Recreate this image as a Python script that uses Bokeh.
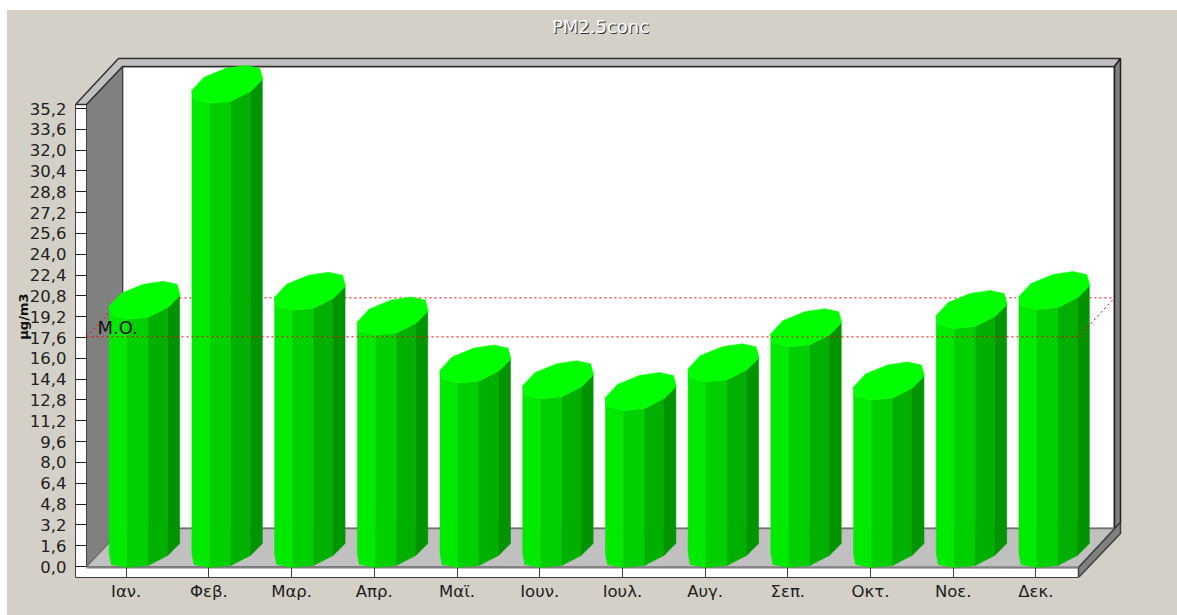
from bokeh.plotting import figure
from bokeh.models import Range1d, LinearAxis, FixedTicker, Label, ColumnDataSource
from bokeh.embed import file_html
from bokeh.resources import INLINE

TITLE = "PM2.5conc"
Y_LABEL = "μg/m3"
MEAN_LABEL = "M.O."
MONTHS = ["Ιαν.", "Φεβ.", "Μαρ.", "Απρ.", "Μαϊ.", "Ιουν.", "Ιουλ.", "Αυγ.", "Σεπ.", "Οκτ.", "Νοε.", "Δεκ."]
VALUES = [19.0, 35.6, 19.7, 17.8, 14.1, 12.9, 12.0, 14.2, 16.9, 12.8, 18.3, 19.75]
MEAN = 17.65
Y_TICKS = [0.0, 1.6, 3.2, 4.8, 6.4, 8.0, 9.6, 11.2, 12.8, 14.4, 16.0, 17.6, 19.2, 20.8,
           22.4, 24.0, 25.6, 27.2, 28.8, 30.4, 32.0, 33.6, 35.2]
Y_TICK_LABELS = ["0,0", "1,6", "3,2", "4,8", "6,4", "8,0", "9,6", "11,2", "12,8", "14,4", "16,0", "17,6",
                 "19,2", "20,8", "22,4", "24,0", "25,6", "27,2", "28,8", "30,4", "32,0", "33,6", "35,2"]

BG = "#d4d0c8"
DX = 82.7          # px per month
DY = 13.01         # px per unit
X0, Y0 = 125.7, 566.0


def X(px):
    return (px - X0) / DX


def Y(px):
    return (Y0 - px) / DY


p = figure(width=1170, height=605, output_backend="svg", toolbar_location=None,
           x_range=Range1d(X(75), X(1177)), y_range=Range1d(Y(577), Y(10)),
           x_axis_type=None, y_axis_type=None,
           min_border_left=68, min_border_right=0, min_border_top=0, min_border_bottom=38,
           background_fill_color=None, border_fill_color=None, outline_line_color=None,
           margin=(10, 0, 0, 7))
p.styles = {"background-color": BG}
p.grid.visible = False


def poly(pts, fill, line=None, width=1):
    p.patch([X(a) for a, _ in pts], [Y(b) for _, b in pts], fill_color=fill,
            line_color=line if line else fill, line_width=width)


# 3D box
poly([(75, 104), (86, 104), (86, 577), (75, 577)], "#ffffff", "#404040")
poly([(75, 567), (1078, 567), (1078, 577), (75, 577)], "#ffffff")
poly([(122, 66), (1114, 66), (1114, 528), (122, 528)], "#ffffff", "#000000", 1.5)
poly([(86, 104), (122, 66), (122, 528), (86, 566)], "#808080", "#404040")
poly([(75, 104), (118, 58), (1120, 58), (1114, 66), (122, 66), (86, 104)], "#c0c0c0", "#303030", 1.5)
poly([(1114, 66), (1120, 58), (1120, 522), (1114, 528)], "#808080", "#202020", 1.5)
poly([(86, 566), (122, 528), (1114, 528), (1078, 567)], "#c0c0c0", "#707070", 1.5)
poly([(1078, 567), (1120, 522), (1120, 533), (1078, 577)], "#808080", "#404040", 1.5)
p.line([X(86), X(1078)], [Y(567), Y(567)], line_color="#808080", line_width=2)

RED = "#f00000"
# mean plane: back edge and left side go behind the bars
mean_back = MEAN + 39 / DY
p.line([X(86), X(122), X(1114)], [MEAN, mean_back, mean_back], line_color=RED, line_width=1, line_dash="2 3")

# Bars (8-sided prisms); the offsets describe the shape, the height comes from VALUES
FACE_X = [-17, 1, 22, 41.5, 53.5]
FACE_UP = [13, 0, 2, 12, 24]
FACE_COLORS = ["#00ea00", "#00d000", "#00b000", "#009400"]
TOP_SHAPE = [(-17, 13), (-5, 26), (17, 35), (37, 38), (51, 35), (54, 24), (42, 12), (22, 2), (1, 0), (-15, 4)]

xs, ys, colors = [], [], []
for i, v in enumerate(VALUES):
    for f in range(4):
        a, b = FACE_X[f], FACE_X[f + 1]
        ua, ub = FACE_UP[f], FACE_UP[f + 1]
        fx = [a, b, b, a]
        fy = [v + ua / DY, v + ub / DY, (ub - 1) / DY, (ua - 1) / DY]
        if f == 0:
            fx = [a, a + 2, b, b, a + 2, a]
            fy = [v + 13 / DY, v + 4 / DY, v, -1 / DY, 2 / DY, 13 / DY]
        xs.append([i + q / DX for q in fx])
        ys.append(fy)
        colors.append(FACE_COLORS[f])
    xs.append([i + q / DX for q, _ in TOP_SHAPE])
    ys.append([v + u / DY for _, u in TOP_SHAPE])
    colors.append("#00ff00")
p.patches("xs", "ys", source=ColumnDataSource(dict(xs=xs, ys=ys, c=colors)),
          fill_color="c", line_color="c", line_width=0.5)

# mean plane: front edge and right side lie on top of the bars
p.line([X(86), X(1078), X(1114)], [MEAN, MEAN, mean_back], line_color=RED, line_width=1, line_dash="2 3")

# Axes
yaxis = LinearAxis(ticker=FixedTicker(ticks=Y_TICKS),
                   major_label_overrides=dict(zip(Y_TICKS, Y_TICK_LABELS)),
                   bounds=(Y(577), Y(104)), axis_line_color="#404040", major_tick_line_color="#202020",
                   major_tick_in=11, major_tick_out=0, minor_tick_line_color=None,
                   major_label_standoff=9, major_label_text_font="DejaVu Sans",
                   major_label_text_font_size="16.5px", major_label_text_color="#202020")
p.add_layout(yaxis, "left")
# trailing no-break spaces move the centred axis title down the frame
label_axis = LinearAxis(ticker=FixedTicker(ticks=[]), bounds=(Y(577), Y(53)), axis_line_color=None,
                        major_tick_line_color=None, minor_tick_line_color=None,
                        major_label_text_font_size="0px", major_label_standoff=0,
                        major_tick_in=0, major_tick_out=0,
                        axis_label=Y_LABEL + "\u00a0" * 10, axis_label_standoff=-4,
                        axis_label_text_font="DejaVu Sans",
                        axis_label_text_font_size="13px", axis_label_text_font_style="bold",
                        axis_label_text_color="#101010")
p.add_layout(label_axis, "left")
xaxis = LinearAxis(ticker=FixedTicker(ticks=list(range(len(MONTHS)))),
                   major_label_overrides=dict(enumerate(MONTHS)),
                   bounds=(X(75), X(1078)), axis_line_color="#404040", major_tick_line_color="#404040",
                   major_tick_in=10, major_tick_out=0, minor_tick_line_color=None,
                   major_label_standoff=4, major_label_text_font="DejaVu Sans",
                   major_label_text_font_size="16.5px", major_label_text_color="#202020")
p.add_layout(xaxis, "below")

# Texts
for dx, dy, colour in [(1, 1, "#303030"), (0, 0, "#ffffff")]:
    p.add_layout(Label(x=X(600 + dx), y=Y(26 + dy), text=TITLE, text_align="center", text_baseline="middle",
                       text_font="DejaVu Sans", text_font_size="18px", text_color=colour))
p.add_layout(Label(x=X(97), y=Y(327), text=MEAN_LABEL, text_align="left", text_baseline="middle",
                   text_font="DejaVu Sans", text_font_size="18px", text_color="#101010"))

open("out.html", "w").write(file_html(p, INLINE))
